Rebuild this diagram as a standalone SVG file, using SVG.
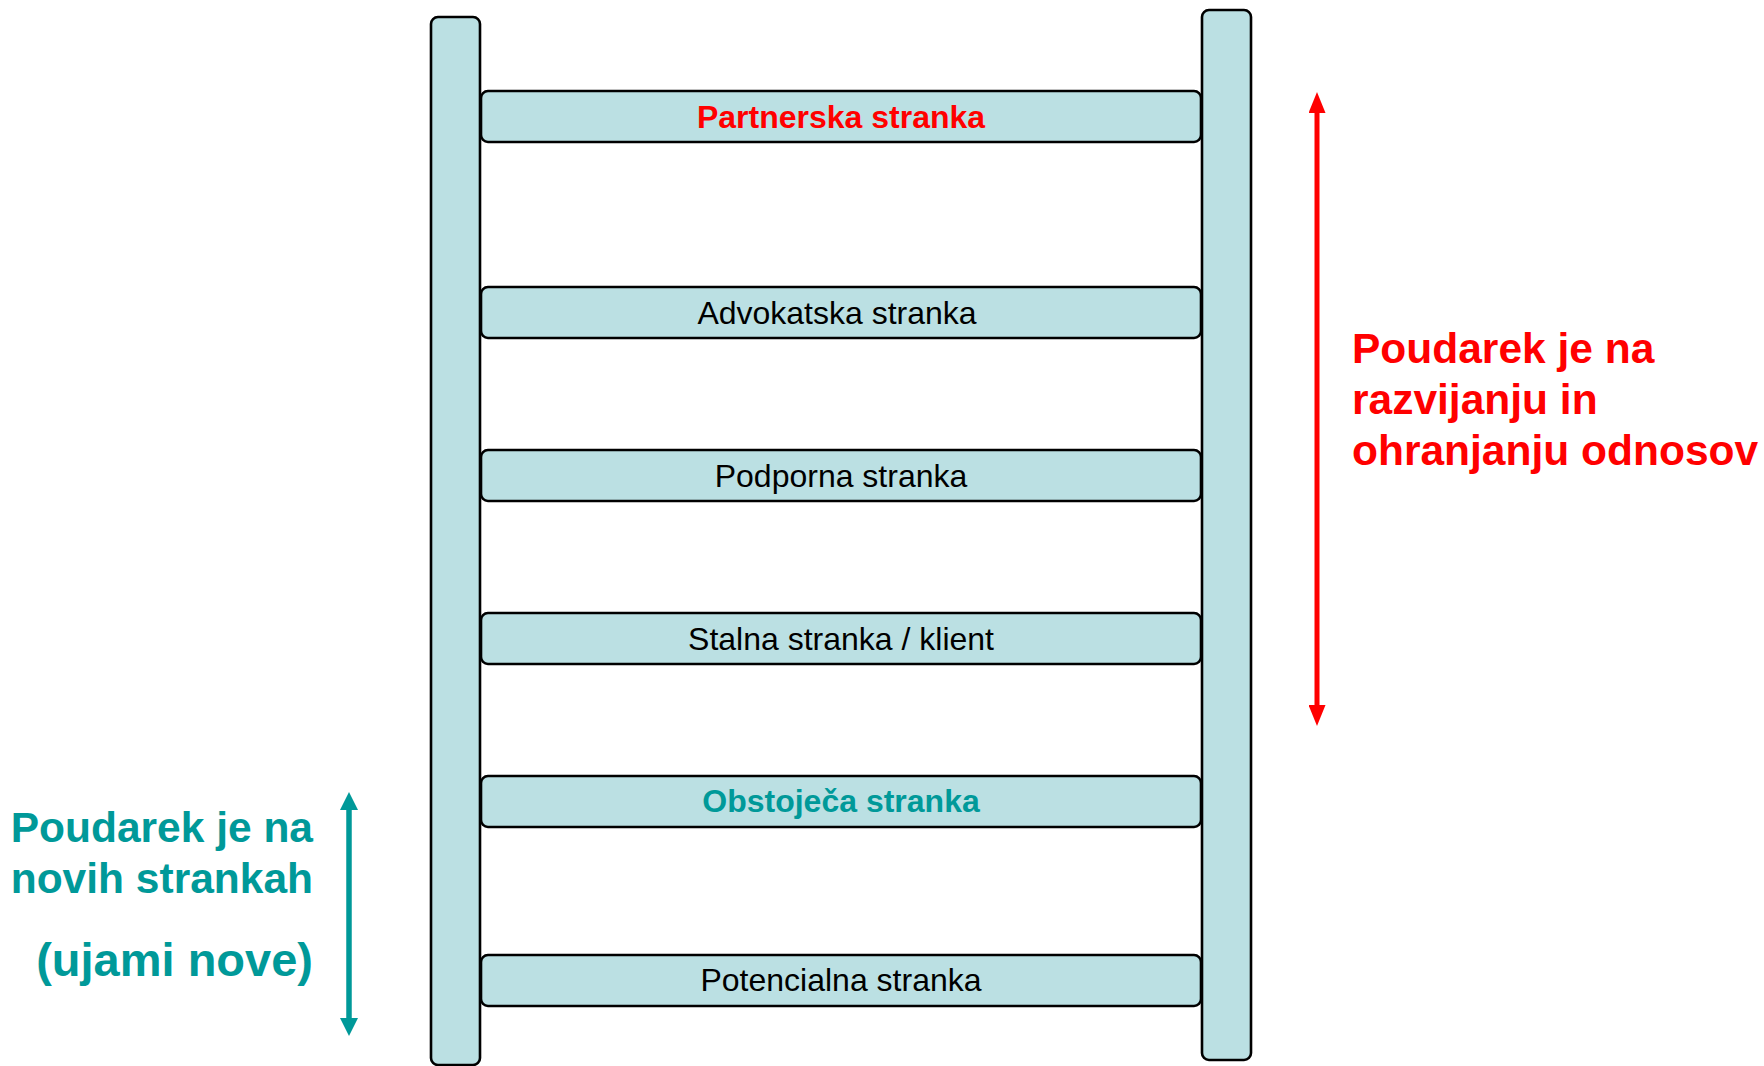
<svg xmlns="http://www.w3.org/2000/svg" width="1764" height="1066" viewBox="0 0 1764 1066">
<style>
.rail{fill:#BBE0E3;stroke:#000;stroke-width:2.6}
.rung{fill:#BBE0E3;stroke:#000;stroke-width:2.6}
.lbl{font-family:"Liberation Sans",Arial,sans-serif;font-size:32px;text-anchor:middle;fill:#000}
.red{fill:#FF0000;font-weight:bold}
.teal{fill:#009999;font-weight:bold}
.note{font-family:"Liberation Sans",Arial,sans-serif;font-size:42.5px;font-weight:bold}
</style>
<defs>
<marker id="hr" viewBox="0 0 21 17" refX="0" refY="8.5" markerWidth="21" markerHeight="17" markerUnits="userSpaceOnUse" orient="auto-start-reverse"><path d="M0,0 L21,8.5 L0,17 z" fill="#FF0000"/></marker>
<marker id="ht" viewBox="0 0 18 18" refX="0" refY="9" markerWidth="18" markerHeight="18" markerUnits="userSpaceOnUse" orient="auto-start-reverse"><path d="M0,0 L18,9 L0,18 z" fill="#009999"/></marker>
</defs>
<rect width="1764" height="1066" fill="#fff"/>
<g id="rail-left"><rect class="rail" x="431" y="17" width="49" height="1048" rx="7"/></g>
<g id="rail-right"><rect class="rail" x="1202" y="10" width="49" height="1050" rx="7"/></g>
<g id="rung-partnerska"><rect class="rung" x="481" y="91" width="720" height="51" rx="7"/><text class="lbl red" x="841" y="128">Partnerska stranka</text></g>
<g id="rung-advokatska"><rect class="rung" x="481" y="287" width="720" height="51" rx="7"/><text class="lbl" x="837" y="324">Advokatska stranka</text></g>
<g id="rung-podporna"><rect class="rung" x="481" y="450" width="720" height="51" rx="7"/><text class="lbl" x="841" y="487">Podporna stranka</text></g>
<g id="rung-stalna"><rect class="rung" x="481" y="613" width="720" height="51" rx="7"/><text class="lbl" x="841" y="650">Stalna stranka / klient</text></g>
<g id="rung-obstojeca"><rect class="rung" x="481" y="776" width="720" height="51" rx="7"/><text class="lbl teal" x="841" y="812">Obstoječa stranka</text></g>
<g id="rung-potencialna"><rect class="rung" x="481" y="955" width="720" height="51" rx="7"/><text class="lbl" x="841" y="991">Potencialna stranka</text></g>
<g id="connectors">
<line x1="1317" y1="113" x2="1317" y2="705" stroke="#FF0000" stroke-width="5" marker-start="url(#hr)" marker-end="url(#hr)"/>
<line x1="349" y1="810" x2="349" y2="1018" stroke="#009999" stroke-width="5.5" marker-start="url(#ht)" marker-end="url(#ht)"/>
</g>
<g id="note-right">
<text class="note" fill="#FF0000" x="1352" y="363">Poudarek je na</text>
<text class="note" fill="#FF0000" x="1352" y="414">razvijanju in</text>
<text class="note" fill="#FF0000" x="1352" y="465">ohranjanju odnosov</text>
</g>
<g id="note-left">
<text class="note" fill="#009999" x="313" y="842" text-anchor="end" font-size="42">Poudarek je na</text>
<text class="note" fill="#009999" x="313" y="893" text-anchor="end" font-size="42">novih strankah</text>
<text class="note" fill="#009999" x="313" y="976" text-anchor="end" style="font-size:47px">(ujami nove)</text>
</g>
</svg>
